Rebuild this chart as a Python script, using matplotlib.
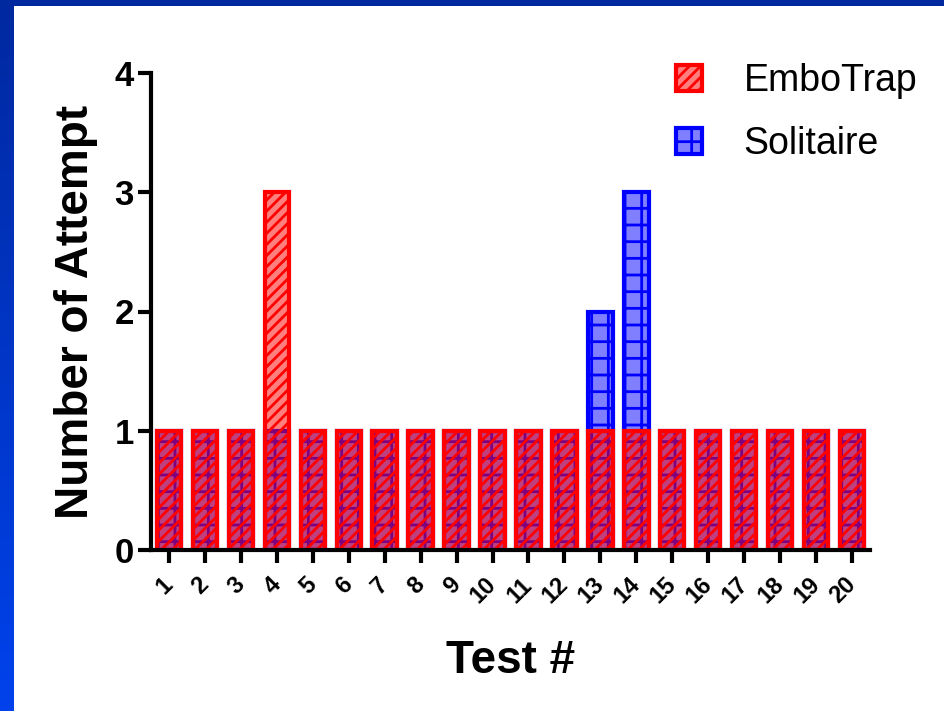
import matplotlib
matplotlib.use('Agg')
import matplotlib.pyplot as plt
import numpy as np
from matplotlib.colors import LinearSegmentedColormap
from matplotlib.patches import Rectangle

# ---- data ----
tests = list(range(1, 21))
tick_labels = [str(t) for t in tests]
embotrap = [1, 1, 1, 3, 1, 1, 1, 1, 1, 1, 1, 1, 1, 1, 1, 1, 1, 1, 1, 1]
solitaire = [1, 1, 1, 1, 1, 1, 1, 1, 1, 1, 1, 1, 2, 3, 1, 1, 1, 1, 1, 1]
yticks = [0, 1, 2, 3, 4]

plt.rcParams['font.family'] = ['Liberation Sans', 'DejaVu Sans']
plt.rcParams['hatch.linewidth'] = 2.0

W, H = 944, 711
fig = plt.figure(figsize=(W / 100, H / 100), dpi=100, facecolor='white')

# blue slide frame
bg = fig.add_axes([0, 0, 14 / W, 1])
grad = np.linspace(0, 1, 256).reshape(-1, 1)
cmap = LinearSegmentedColormap.from_list('frame', ['#0029A0', '#0042EC'])
bg.imshow(grad, aspect='auto', cmap=cmap, extent=[0, 1, 0, 1], origin='upper')
bg.set_axis_off()
fig.patches.append(Rectangle((0, 1 - 6 / H), 1, 6 / H, transform=fig.transFigure,
                             facecolor='#0029A0', edgecolor='none', zorder=0))

ax = fig.add_axes([151 / W, 1 - 550 / H, (870 - 151) / W, (550 - 73) / H])
ax.set_facecolor('none')

sol = ax.bar(tests, solitaire, width=0.68, facecolor=(0, 0, 1, 0.5), edgecolor='#0000FF',
             hatch='+', linewidth=3, label='Solitaire', zorder=2)
emb = ax.bar(tests, embotrap, width=0.68, facecolor=(1, 0, 0, 0.5), edgecolor='#FF0000',
             hatch='///', linewidth=3, label='EmboTrap', zorder=3)

ax.set_xlim(0.5, 20.5)
ax.set_ylim(0, 4)
for s in ['top', 'right']:
    ax.spines[s].set_visible(False)
for s in ['left', 'bottom']:
    ax.spines[s].set_linewidth(3)
    ax.spines[s].set_zorder(5)

ax.set_yticks(yticks)
ax.set_yticklabels([str(v) for v in yticks], fontsize=25, fontweight='bold')
ax.set_xticks(tests)
ax.set_xticklabels(tick_labels, fontsize=17, fontweight='bold', rotation=45,
                   ha='right', va='center', rotation_mode='anchor')
ax.tick_params(axis='both', width=3, length=9.5, direction='out')
ax.tick_params(axis='x', pad=13)
ax.tick_params(axis='y', pad=3)

ax.set_ylabel('Number of Attempt', fontsize=33, fontweight='bold', labelpad=12)
ax.set_xlabel('Test #', fontsize=33, fontweight='bold', labelpad=22)

fig.legend([emb, sol], ['EmboTrap', 'Solitaire'], loc='upper left',
           bbox_to_anchor=(676 / W, 1 - 63 / H), frameon=False, fontsize=27,
           handlelength=0.7, handleheight=0.7, handletextpad=1.1,
           labelspacing=0.72, borderpad=0, borderaxespad=0)

fig.savefig('out.png', dpi=100, facecolor='white')
